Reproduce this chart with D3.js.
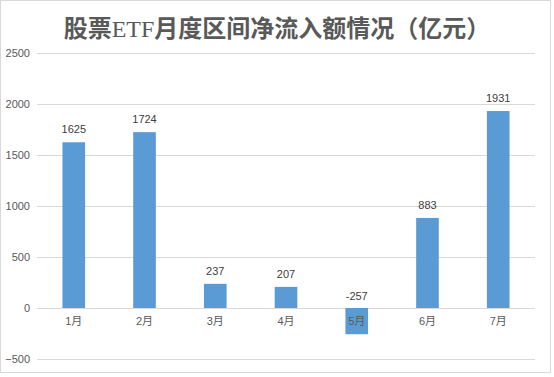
<!DOCTYPE html>
<meta charset="utf-8">
<style>
body { margin: 0; background: #fff; }
text { font-family: "Liberation Sans", "Noto Sans CJK SC", sans-serif; }
</style>
<body>
<div id="chart"></div>
<script src="https://d3js.org/d3.v7.min.js"></script>
<script>
var months = ['1月', '2月', '3月', '4月', '5月', '6月', '7月']
var flows = [1625, 1724, 237, 207, -257, 883, 1931]
var yTicks = [-500, 0, 500, 1000, 1500, 2000, 2500]
var titleParts = ['股票', 'ETF', '月度区间净流入额情况（亿元）']

var width = 554
var height = 377
var margin = { top: 53, right: 19, bottom: 18, left: 37 }

var svg = d3.select('#chart')
    .append('svg')
    .attr('width', width)
    .attr('height', height)

// outer frame
svg.append('rect')
    .attr('x', 0.5).attr('y', 0.5)
    .attr('width', 550).attr('height', 372)
    .style('fill', '#fff')
    .style('stroke', '#d9d9d9')

var x = d3.scaleBand()
    .domain(months)
    .range([margin.left, width - margin.right])
    .paddingInner(0.68)
    .paddingOuter(0.36)

var y = d3.scaleLinear()
    .domain([-500, 2500])
    .range([359, 53])

var title = svg.append('text')
    .attr('x', 277)
    .attr('y', 37)
    .attr('text-anchor', 'middle')
    .style('font-family', '"Noto Sans CJK SC", sans-serif')
    .style('font-weight', 'bold')
    .style('font-size', '24px')
    .style('fill', '#595959')
title.selectAll('tspan')
    .data(titleParts)
    .enter()
    .append('tspan')
    .style('font-family', function (d, i) { return i === 1 ? '"Liberation Serif", serif' : null })
    .style('font-weight', function (d, i) { return i === 1 ? 'normal' : null })
    .text(function (d) { return d })

// gridlines and tick labels
var gy = svg.append('g')
    .attr('transform', 'translate(' + margin.left + ',0)')
    .call(d3.axisLeft(y).tickValues(yTicks).tickFormat(d3.format('')).tickSize(-(width - margin.right - margin.left)))
gy.select('.domain').remove()
gy.selectAll('.tick line').style('stroke', '#d9d9d9')
gy.selectAll('.tick text')
    .style('font-size', '11px')
    .style('fill', '#595959')
    .attr('x', -7)

svg.selectAll('rect.bar')
    .data(flows)
    .enter()
    .append('rect')
    .attr('class', 'bar')
    .attr('x', function (d, i) { return x(months[i]) })
    .attr('width', x.bandwidth())
    .attr('y', function (d) { return y(Math.max(0, d)) })
    .attr('height', function (d) { return Math.abs(y(d) - y(0)) })
    .style('fill', '#5b9bd5')

// month labels sit just under the zero line
svg.selectAll('text.month')
    .data(months)
    .enter()
    .append('text')
    .attr('class', 'month')
    .attr('x', function (d) { return x(d) + x.bandwidth() / 2 })
    .attr('y', y(0) + 17)
    .attr('text-anchor', 'middle')
    .style('font-size', '11px')
    .style('fill', '#595959')
    .text(function (d) { return d })

svg.selectAll('text.value')
    .data(flows)
    .enter()
    .append('text')
    .attr('class', 'value')
    .attr('x', function (d, i) { return x(months[i]) + x.bandwidth() / 2 })
    .attr('y', function (d) { return d < 0 ? y(0) - 8 : y(d) - 9 })
    .attr('text-anchor', 'middle')
    .style('font-size', '11px')
    .style('fill', '#404040')
    .text(function (d) { return d })
</script>
</body>
